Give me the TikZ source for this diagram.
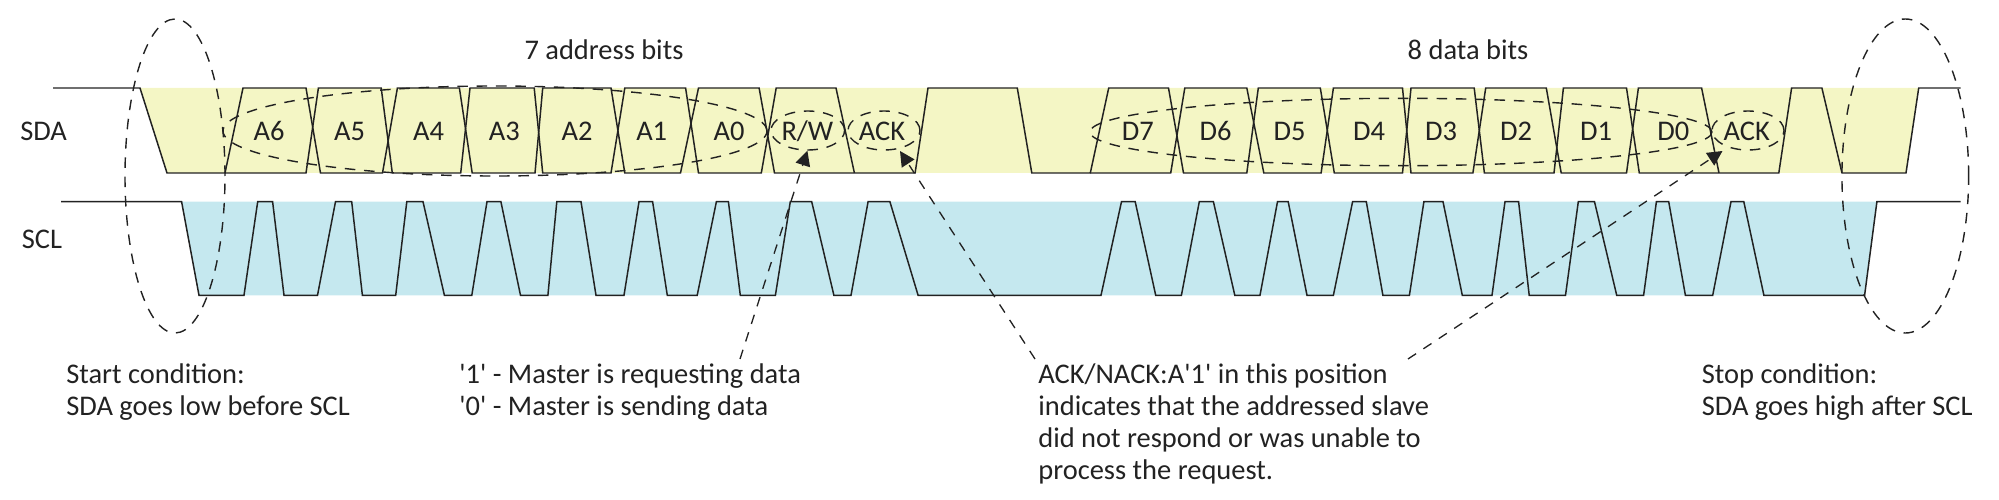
\documentclass[tikz,border=0pt]{standalone}
\usepackage{fontspec}
\setmainfont{Carlito}
\usetikzlibrary{arrows.meta, shapes.geometric}
\definecolor{sdaband}{HTML}{F4F6C5}
\definecolor{sclband}{HTML}{C5E8EF}
\definecolor{ink}{HTML}{222222}
\tikzset{
	wave/.style={draw=ink, line width=0.85pt, line join=miter},
	ring/.style={ellipse, draw=ink, line width=0.8pt, dash pattern=on 6pt off 5pt, inner sep=0pt},
	pointer/.style={color=ink, line width=0.75pt, dash pattern=on 5.5pt off 5pt, -{Triangle[length=8.5pt, width=8.5pt, fill=ink]}},
	bit/.style={text=ink, font=\fontsize{16.2}{19}\selectfont, inner sep=0pt},
	note/.style={text=ink, font=\fontsize{16.2}{18.2}\selectfont, inner sep=0pt, align=left, anchor=north west}
}
\begin{document}
\begin{tikzpicture}[x=0.02cm, y=-0.02cm]

	\useasboundingbox (0, 0) rectangle (1999, 500);

	\fill[sdaband] (140, 88) -- (1918.7, 88) -- (1906, 173) -- (167, 173) -- cycle;
	\fill[sclband] (181.6, 201.7) -- (1876.9, 201.7) -- (1864.6, 295.3) -- (199, 295.3) -- cycle;

	\draw[wave] (53, 88) -- (140, 88) -- (167, 173) -- (225, 173) -- (243, 88) -- (306, 88) -- (320.5, 173)
		-- (382.5, 173) -- (397.4, 88) -- (459.4, 88) -- (472.2, 173) -- (535, 173) -- (542.7, 88) -- (611, 88)
		-- (624.8, 173) -- (680.5, 173) -- (698.5, 88) -- (759.1, 88) -- (774.5, 173) -- (915.1, 173) -- (928, 88)
		-- (1017.3, 88) -- (1031.8, 173) -- (1090.3, 173) -- (1108.7, 88) -- (1168.5, 88) -- (1183.5, 173)
		-- (1246.8, 173) -- (1258.3, 88) -- (1320.3, 88) -- (1334.3, 173) -- (1402.5, 173) -- (1411, 88)
		-- (1474.2, 88) -- (1484.4, 173) -- (1554, 173) -- (1563.4, 88) -- (1626.5, 88) -- (1639.3, 173)
		-- (1778.8, 173) -- (1791.6, 88) -- (1821.9, 88) -- (1842, 173) -- (1906, 173) -- (1918.7, 88) -- (1960.5, 88);
	\draw[wave] (225, 173) -- (306, 173) -- (318.4, 88) -- (381.2, 88) -- (392.3, 173) -- (460.7, 173) -- (470, 88)
		-- (534.2, 88) -- (542.7, 173) -- (611, 173) -- (624.8, 88) -- (685.6, 88) -- (698.5, 173) -- (761.3, 173)
		-- (776.2, 88) -- (836, 88) -- (854.4, 173);
	\draw[wave] (1090.3, 173) -- (1170.7, 173) -- (1184.8, 88) -- (1246.8, 88) -- (1263.8, 173) -- (1321.1, 173)
		-- (1333.4, 88) -- (1402.5, 88) -- (1411, 173) -- (1472.9, 173) -- (1485.7, 88) -- (1546.3, 88)
		-- (1561.2, 173) -- (1626.5, 173) -- (1638.4, 88) -- (1701.6, 88) -- (1719, 173);

	\draw[wave] (61, 201.7) -- (181.6, 201.7) -- (199, 295.3) -- (244, 295.3) -- (257.7, 201.7) -- (272.6, 201.7)
		-- (284, 295.3) -- (317.5, 295.3) -- (335.5, 201.7) -- (351.7, 201.7) -- (362.4, 295.3) -- (395.7, 295.3)
		-- (406.8, 201.7) -- (423, 201.7) -- (444.4, 295.3) -- (471.8, 295.3) -- (487, 201.7) -- (500.9, 201.7)
		-- (520.5, 295.3) -- (547.9, 295.3) -- (556.8, 201.7) -- (581, 201.7) -- (596, 295.3) -- (624, 295.3)
		-- (639, 201.7) -- (652.6, 201.7) -- (667.3, 295.3) -- (697.2, 295.3) -- (716.4, 201.7) -- (728.4, 201.7)
		-- (740.3, 295.3) -- (775.4, 295.3) -- (790.3, 201.7) -- (811.7, 201.7) -- (833.9, 295.3) -- (851, 295.3)
		-- (868.1, 201.7) -- (889.9, 201.7) -- (918.1, 295.3) -- (1101, 295.3) -- (1121.5, 201.7) -- (1135.2, 201.7)
		-- (1155.7, 295.3) -- (1181.4, 295.3) -- (1199.3, 201.7) -- (1213.4, 201.7) -- (1234.8, 295.3) -- (1260, 295.3)
		-- (1277.5, 201.7) -- (1288.2, 201.7) -- (1307, 295.3) -- (1333.4, 295.3) -- (1352.6, 201.7) -- (1366.3, 201.7)
		-- (1382.9, 295.3) -- (1409.4, 295.3) -- (1423.9, 201.7) -- (1443, 201.7) -- (1462.3, 295.3) -- (1492, 295.3)
		-- (1505, 201.7) -- (1518.6, 201.7) -- (1529.2, 295.3) -- (1565.5, 295.3) -- (1578.3, 201.7) -- (1594.5, 201.7)
		-- (1616.7, 295.3) -- (1643.6, 295.3) -- (1656.4, 201.7) -- (1668.7, 201.7) -- (1685.4, 295.3) -- (1712.7, 295.3)
		-- (1731, 201.7) -- (1743.8, 201.7) -- (1763.9, 295.3) -- (1864.6, 295.3) -- (1876.9, 201.7) -- (1960.5, 201.7);

	\node (startring) [ring, minimum width=100*0.02cm, minimum height=314*0.02cm] at (175, 176) {};
	\node (stopring) [ring, minimum width=126.7*0.02cm, minimum height=314*0.02cm] at (1905.3, 176) {};
	\node (addrring) [ring, minimum width=544*0.02cm, minimum height=90*0.02cm] at (495, 131) {};
	\node (dataring) [ring, minimum width=622*0.02cm, minimum height=67.4*0.02cm] at (1401, 132) {};
	\node (rwring) [ring, minimum width=73.6*0.02cm, minimum height=39*0.02cm] at (807.8, 130.5) {};
	\node (ackring) [ring, minimum width=72*0.02cm, minimum height=39*0.02cm] at (884, 130.5) {};
	\node (lastring) [ring, minimum width=72*0.02cm, minimum height=39*0.02cm] at (1748, 130.5) {};

	\node (sda) [bit] at (43.6, 131) {SDA};
	\node (scl) [bit] at (42, 239) {SCL};
	\node (addrbits) [bit] at (604, 50) {7 address bits};
	\node (databits) [bit] at (1468, 50) {8 data bits};

	\node (a6) [bit] at (269, 131) {A6};
	\node (a5) [bit] at (349.6, 131) {A5};
	\node (a4) [bit] at (428.6, 131) {A4};
	\node (a3) [bit] at (504.3, 131) {A3};
	\node (a2) [bit] at (577, 131) {A2};
	\node (a1) [bit] at (651.7, 131) {A1};
	\node (a0) [bit] at (729, 131) {A0};
	\node (rw) [bit] at (807.4, 131) {R/W};
	\node (ack) [bit] at (882, 131) {ACK};
	\node (d7) [bit] at (1137.8, 131) {D7};
	\node (d6) [bit] at (1215.6, 131) {D6};
	\node (d5) [bit] at (1289.5, 131) {D5};
	\node (d4) [bit] at (1369, 131) {D4};
	\node (d3) [bit] at (1441, 131) {D3};
	\node (d2) [bit] at (1516, 131) {D2};
	\node (d1) [bit] at (1596, 131) {D1};
	\node (d0) [bit] at (1673.4, 131) {D0};
	\node (lastack) [bit] at (1746.8, 131) {ACK};

	\node (startnote) [note] at (66, 363) {Start condition:\\SDA goes low before SCL};
	\node (rwnote) [note] at (459, 363) {\textquotesingle 1\textquotesingle{} - Master is requesting data\\\textquotesingle 0\textquotesingle{} - Master is sending data};
	\node (acknote) [note] at (1038, 363) {ACK/NACK:A\textquotesingle 1\textquotesingle{} in this position\\indicates that the addressed slave\\did not respond or was unable to\\process the request.};
	\node (stopnote) [note] at (1701.5, 363) {Stop condition:\\SDA goes high after SCL};

	\coordinate (rwfoot) at (740, 359);
	\coordinate (rwtip) at (807.4, 150.7);
	\coordinate (ackfoot) at (1035, 359);
	\coordinate (acktip) at (900, 151);
	\coordinate (lastfoot) at (1408, 359);
	\coordinate (lasttip) at (1722.5, 151);

	\path[pointer]
	(rwfoot) edge (rwtip)
	(ackfoot) edge (acktip)
	(lastfoot) edge (lasttip);

\end{tikzpicture}
\end{document}
